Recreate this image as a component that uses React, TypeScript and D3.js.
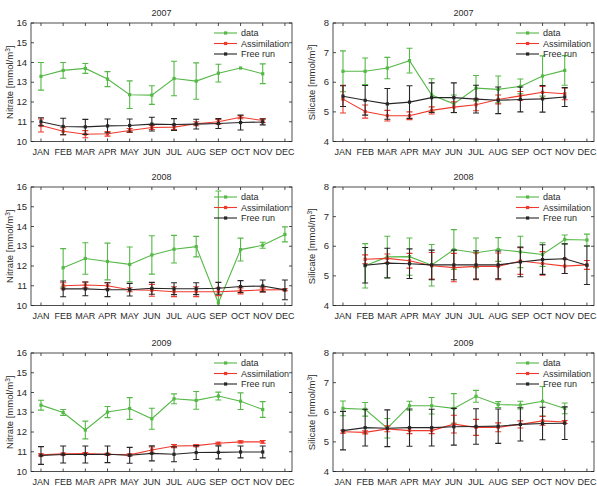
import * as d3 from 'd3';
import {useEffect, useRef} from 'react';

const months = ['JAN', 'FEB', 'MAR', 'APR', 'MAY', 'JUN', 'JUL', 'AUG', 'SEP', 'OCT', 'NOV', 'DEC'];
const years = ['2007', '2008', '2009'];
const seriesNames = ['data', 'Assimilation', 'Free run'];

// nitrate 2007
const no3Data07 = [13.3, 13.6, 13.7, 13.16, 12.37, 12.35, 13.19, 13.06, 13.46, 13.72, 13.43, null];
const no3DataErr07 = [0.7, 0.4, 0.25, 0.38, 0.7, 0.47, 0.87, 0.92, 0.45, 0, 0.5, null];
const no3Assim07 = [10.81, 10.52, 10.37, 10.39, 10.56, 10.71, 10.73, 10.9, 11.0, 11.23, 11.06, null];
const no3AssimErr07 = [0.33, 0.18, 0.18, 0.12, 0.1, 0.1, 0.12, 0.1, 0.12, 0.08, 0.1, null];
const no3Free07 = [11.0, 10.76, 10.74, 10.79, 10.81, 10.88, 10.86, 10.88, 10.91, 10.96, 10.99, null];
const no3FreeErr07 = [0.2, 0.42, 0.38, 0.35, 0.33, 0.35, 0.3, 0.25, 0.25, 0.38, 0.15, null];

// nitrate 2008
const no3Data08 = [null, 11.91, 12.38, 12.23, 12.08, 12.56, 12.85, 12.98, 10.13, 12.83, 13.05, 13.6];
const no3DataErr08 = [null, 0.97, 0.8, 0.93, 0.88, 0.97, 0.7, 0.52, 5.67, 0.58, 0.15, 0.38];
const no3Assim08 = [null, 11.0, 11.04, 11.0, 10.8, 10.77, 10.7, 10.7, 10.7, 10.74, 10.79, 10.8];
const no3AssimErr08 = [null, 0.15, 0.15, 0.15, 0.1, 0.3, 0.25, 0.25, 0.2, 0.15, 0.1, 0.05];
const no3Free08 = [null, 10.84, 10.84, 10.8, 10.8, 10.87, 10.85, 10.85, 10.87, 10.96, 10.99, 10.79];
const no3FreeErr08 = [null, 0.4, 0.35, 0.35, 0.32, 0.3, 0.3, 0.3, 0.3, 0.3, 0.3, 0.5];

// nitrate 2009
const no3Data09 = [13.36, 12.99, 12.1, 13.01, 13.19, 12.67, 13.68, 13.6, 13.82, 13.56, 13.14, null];
const no3DataErr09 = [0.25, 0.15, 0.45, 0.28, 0.55, 0.53, 0.25, 0.45, 0.2, 0.42, 0.4, null];
const no3Assim09 = [10.84, 10.89, 10.91, 10.87, 10.84, 11.09, 11.29, 11.31, 11.43, 11.5, 11.5, null];
const no3AssimErr09 = [0.05, 0.05, 0.05, 0.05, 0.05, 0.15, 0.08, 0.05, 0.05, 0.05, 0.07, null];
const no3Free09 = [10.81, 10.86, 10.86, 10.87, 10.82, 10.92, 10.87, 10.96, 10.97, 10.99, 10.99, null];
const no3FreeErr09 = [0.45, 0.43, 0.43, 0.42, 0.4, 0.38, 0.38, 0.35, 0.33, 0.3, 0.3, null];

// silicate 2007
const sioData07 = [6.37, 6.37, 6.48, 6.73, 5.57, 5.27, 5.8, 5.76, 5.86, 6.21, 6.4, null];
const sioDataErr07 = [0.69, 0.45, 0.36, 0.42, 0.55, 0.3, 0.43, 0.45, 0.25, 0.68, 0.5, null];
const sioAssim07 = [5.43, 5.01, 4.87, 4.87, 5.05, 5.16, 5.24, 5.42, 5.54, 5.66, 5.61, null];
const sioAssimErr07 = [0.47, 0.22, 0.18, 0.13, 0.12, 0.18, 0.2, 0.15, 0.15, 0.2, 0.2, null];
const sioFree07 = [5.53, 5.39, 5.27, 5.33, 5.48, 5.48, 5.43, 5.39, 5.42, 5.44, 5.5, null];
const sioFreeErr07 = [0.35, 0.5, 0.52, 0.55, 0.5, 0.5, 0.47, 0.45, 0.42, 0.45, 0.32, null];

// silicate 2008
const sioData08 = [null, 5.34, 5.64, 5.65, 5.36, 5.89, 5.78, 5.89, 5.81, 5.72, 6.23, 6.21];
const sioDataErr08 = [null, 0.75, 0.7, 0.63, 0.7, 0.67, 0.5, 0.4, 0.53, 0.4, 0.15, 0.2];
const sioAssim08 = [null, 5.56, 5.59, 5.51, 5.34, 5.28, 5.32, 5.32, 5.5, 5.42, 5.33, 5.37];
const sioAssimErr08 = [null, 0.15, 0.15, 0.25, 0.45, 0.48, 0.45, 0.45, 0.45, 0.4, 0.25, 0.15];
const sioFree08 = [null, 5.36, 5.43, 5.41, 5.37, 5.37, 5.37, 5.37, 5.47, 5.55, 5.58, 5.36];
const sioFreeErr08 = [null, 0.6, 0.5, 0.5, 0.5, 0.5, 0.48, 0.47, 0.5, 0.5, 0.5, 0.65];

// silicate 2009
const sioData09 = [6.13, 6.1, 5.46, 6.22, 6.22, 6.13, 6.54, 6.26, 6.24, 6.37, 6.13, null];
const sioDataErr09 = [0.25, 0.23, 0.33, 0.15, 0.28, 0.5, 0.2, 0.1, 0.13, 0.5, 0.18, null];
const sioAssim09 = [5.34, 5.32, 5.44, 5.38, 5.38, 5.6, 5.49, 5.49, 5.59, 5.71, 5.67, null];
const sioAssimErr09 = [0.05, 0.05, 0.1, 0.1, 0.1, 0.3, 0.27, 0.15, 0.12, 0.15, 0.05, null];
const sioFree09 = [5.38, 5.48, 5.46, 5.48, 5.48, 5.51, 5.52, 5.53, 5.59, 5.62, 5.63, null];
const sioFreeErr09 = [0.65, 0.62, 0.62, 0.63, 0.62, 0.62, 0.6, 0.58, 0.56, 0.55, 0.55, null];

const no3Ticks = [10, 11, 12, 13, 14, 15, 16];
const sioTicks = [4, 5, 6, 7, 8];

const colors = ['#55b847', '#ee3a2c', '#262626'];

type Series = {values: (number | null)[]; errs: (number | null)[]};
type Panel = {
	title: string;
	label: string;
	ticks: number[];
	col: number;
	row: number;
	series: Series[];
};

const panels: Panel[] = [
	{title: years[0], label: 'Nitrate', ticks: no3Ticks, col: 0, row: 0, series: [
		{values: no3Data07, errs: no3DataErr07}, {values: no3Assim07, errs: no3AssimErr07}, {values: no3Free07, errs: no3FreeErr07}]},
	{title: years[0], label: 'Silicate', ticks: sioTicks, col: 1, row: 0, series: [
		{values: sioData07, errs: sioDataErr07}, {values: sioAssim07, errs: sioAssimErr07}, {values: sioFree07, errs: sioFreeErr07}]},
	{title: years[1], label: 'Nitrate', ticks: no3Ticks, col: 0, row: 1, series: [
		{values: no3Data08, errs: no3DataErr08}, {values: no3Assim08, errs: no3AssimErr08}, {values: no3Free08, errs: no3FreeErr08}]},
	{title: years[1], label: 'Silicate', ticks: sioTicks, col: 1, row: 1, series: [
		{values: sioData08, errs: sioDataErr08}, {values: sioAssim08, errs: sioAssimErr08}, {values: sioFree08, errs: sioFreeErr08}]},
	{title: years[2], label: 'Nitrate', ticks: no3Ticks, col: 0, row: 2, series: [
		{values: no3Data09, errs: no3DataErr09}, {values: no3Assim09, errs: no3AssimErr09}, {values: no3Free09, errs: no3FreeErr09}]},
	{title: years[2], label: 'Silicate', ticks: sioTicks, col: 1, row: 2, series: [
		{values: sioData09, errs: sioDataErr09}, {values: sioAssim09, errs: sioAssimErr09}, {values: sioFree09, errs: sioFreeErr09}]},
];

const width = 597;
const height = 486;
const colX = [31, 333];
const rowY = [23, 187, 353];
const plotW = 261;
const plotH = 118.5;
const font = 'Liberation Sans, Arial, Helvetica, sans-serif';

export default function App() {
	const svgRef = useRef(null);

	useEffect(() => {
		const svg = d3.select(svgRef.current);
		svg.selectAll('*').remove();

		panels.forEach((p, pi) => {
			const g = svg.append('g').attr('transform', `translate(${colX[p.col]},${rowY[p.row]})`);

			const x = d3.scaleLinear().domain([0.55, 12.32]).range([0, plotW]);
			const y = d3
				.scaleLinear()
				.domain([p.ticks[0], p.ticks[p.ticks.length - 1]])
				.range([plotH, 0]);

			const clipId = `clip-${pi}`;
			g.append('clipPath').attr('id', clipId).append('rect').attr('width', plotW).attr('height', plotH);

			// ticks, inward, mirrored on every side
			const tickG = g.append('g').attr('stroke', '#222').attr('stroke-width', 0.8);
			months.forEach((_, i) => {
				const xx = x(i + 1);
				tickG.append('line').attr('x1', xx).attr('x2', xx).attr('y1', plotH).attr('y2', plotH - 3);
				tickG.append('line').attr('x1', xx).attr('x2', xx).attr('y1', 0).attr('y2', 3);
			});
			p.ticks.forEach((t) => {
				const yy = y(t);
				tickG.append('line').attr('x1', 0).attr('x2', 3).attr('y1', yy).attr('y2', yy);
				tickG.append('line').attr('x1', plotW).attr('x2', plotW - 3).attr('y1', yy).attr('y2', yy);
			});

			g.selectAll('.mlabel')
				.data(months)
				.join('text')
				.attr('class', 'mlabel')
				.attr('x', (_, i) => x(i + 1))
				.attr('y', plotH + 13)
				.attr('text-anchor', 'middle')
				.attr('font-size', 9)
				.attr('font-family', font)
				.attr('fill', '#2a2a2a')
				.text((d) => d);

			g.selectAll('.ylabel')
				.data(p.ticks)
				.join('text')
				.attr('class', 'ylabel')
				.attr('x', -4)
				.attr('y', (d) => y(d) + 3.2)
				.attr('text-anchor', 'end')
				.attr('font-size', 9.5)
				.attr('font-family', font)
				.attr('fill', '#2a2a2a')
				.text((d) => d);

			g.append('text')
				.attr('x', plotW / 2)
				.attr('y', -7)
				.attr('text-anchor', 'middle')
				.attr('font-size', 9)
				.attr('font-family', font)
				.attr('fill', '#2a2a2a')
				.text(p.title);

			const yl = g
				.append('text')
				.attr('transform', `translate(${-18},${plotH / 2}) rotate(-90)`)
				.attr('text-anchor', 'middle')
				.attr('font-size', 9.5)
				.attr('font-family', font)
				.attr('fill', '#2a2a2a');
			yl.append('tspan').text(`${p.label} [mmol/m`);
			yl.append('tspan').attr('dy', -3.5).attr('font-size', 6.5).text('3');
			yl.append('tspan').attr('dy', 3.5).text(']');

			const plot = g.append('g').attr('clip-path', `url(#${clipId})`);

			p.series.forEach((s, si) => {
				const pts = s.values
					.map((v, i) => ({i, v, e: s.errs[i]}))
					.filter((d) => d.v !== null) as {i: number; v: number; e: number}[];
				const sg = plot.append('g');
				const line = d3
					.line<{i: number; v: number}>()
					.x((d) => x(d.i + 1))
					.y((d) => y(d.v));
				sg.append('path')
					.attr('d', line(pts))
					.attr('fill', 'none')
					.attr('stroke', colors[si])
					.attr('stroke-width', 1.1);
				pts.forEach((d) => {
					const cx = x(d.i + 1);
					if (d.e > 0) {
						const y0 = y(d.v - d.e);
						const y1 = y(d.v + d.e);
						sg.append('path')
							.attr('d', `M${cx},${y0}V${y1}M${cx - 3},${y0}H${cx + 3}M${cx - 3},${y1}H${cx + 3}`)
							.attr('fill', 'none')
							.attr('stroke', colors[si])
							.attr('stroke-width', 1.1);
					}
					sg.append('rect')
						.attr('x', cx - 1.6)
						.attr('y', y(d.v) - 1.6)
						.attr('width', 3.2)
						.attr('height', 3.2)
						.attr('fill', colors[si]);
				});
			});

			// legend
			const leg = g.append('g').attr('transform', `translate(${plotW - 78},10)`);
			seriesNames.forEach((n, si) => {
				const ly = si * 10.5;
				leg.append('line').attr('x1', 0).attr('x2', 23).attr('y1', ly).attr('y2', ly).attr('stroke', colors[si]).attr('stroke-width', 1.1);
				leg.append('rect').attr('x', 10).attr('y', ly - 1.6).attr('width', 3.2).attr('height', 3.2).attr('fill', colors[si]);
				leg.append('text')
					.attr('x', 27)
					.attr('y', ly + 3.2)
					.attr('font-size', 9)
					.attr('font-family', font)
					.attr('fill', '#2a2a2a')
					.text(n);
			});

			g.append('rect')
				.attr('width', plotW)
				.attr('height', plotH)
				.attr('fill', 'none')
				.attr('stroke', '#222')
				.attr('stroke-width', 0.8);
		});
	}, []);

	return (
		<svg
			ref={svgRef}
			width={width}
			height={height}
			style={{position: 'absolute', left: 0, top: 0, background: '#fff'}}
		/>
	);
}
